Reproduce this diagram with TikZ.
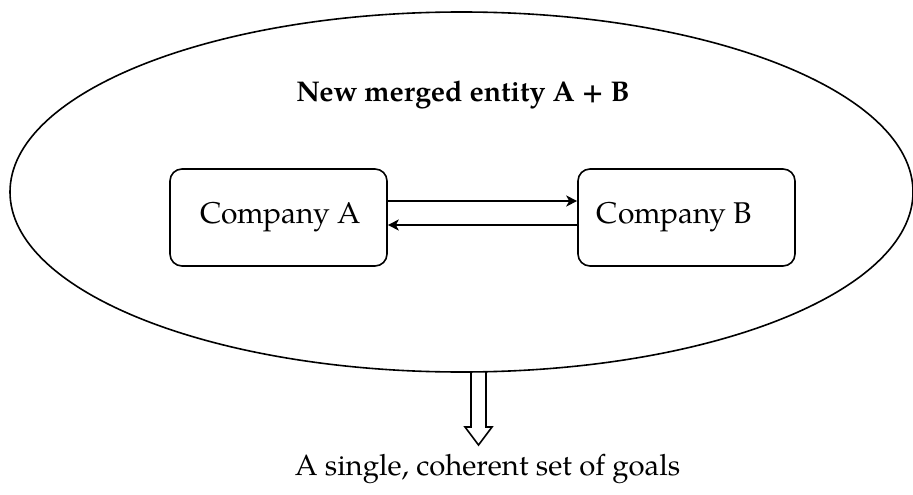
\documentclass[tikz,border=0pt]{standalone}
\usepackage{fontspec}
\setmainfont{TeX Gyre Pagella}
\usetikzlibrary{shapes.geometric,arrows.meta}
\tikzset{
  lw/.style={line width=1.6pt},
  compbox/.style={draw, lw, rounded corners=12pt, minimum width=217pt, minimum height=97pt, inner sep=0pt},
  comptext/.style={font=\fontsize{30}{36}\selectfont, inner sep=0pt, anchor=base},
  link/.style={lw, -{Stealth[length=11pt,width=11pt,inset=3pt]}},
}
\begin{document}
\begin{tikzpicture}[x=1pt,y=-1pt]
\useasboundingbox (0,0) rectangle (913,495);
\node[ellipse, draw, lw, minimum width=903pt, minimum height=360pt, inner sep=0pt] (ell) at (461.5,192) {};
\node[font=\bfseries\fontsize{28.5}{34}\selectfont, anchor=base, inner sep=0pt] (title) at (463,102) {New merged entity A + B};
\node[compbox] (A) at (278.5,217.5) {};
\node[compbox] (B) at (686.5,217.5) {};
\node[comptext] (At) at (280.5,223) {Company A};
\node[comptext] (Bt) at (674.5,223) {Company B};
\draw[link] ([yshift=16.5pt]A.east) -- ([yshift=16.5pt]B.west);
\draw[link] ([yshift=-7.5pt]B.west) -- ([yshift=-7.5pt]A.east);
\coordinate (s) at (478.5,372);
\node[font=\fontsize{29.3}{35}\selectfont, anchor=base, inner sep=0pt] (goal) at (487.5,475) {A single, coherent set of goals};
\draw[lw, line join=miter] ([xshift=-7.5pt]s) -- ++(0,55) -- ++(-6,0) -- ++(13.5,18) -- ++(13.5,-18) -- ++(-6,0) -- ([xshift=7.5pt]s);
\end{tikzpicture}
\end{document}
